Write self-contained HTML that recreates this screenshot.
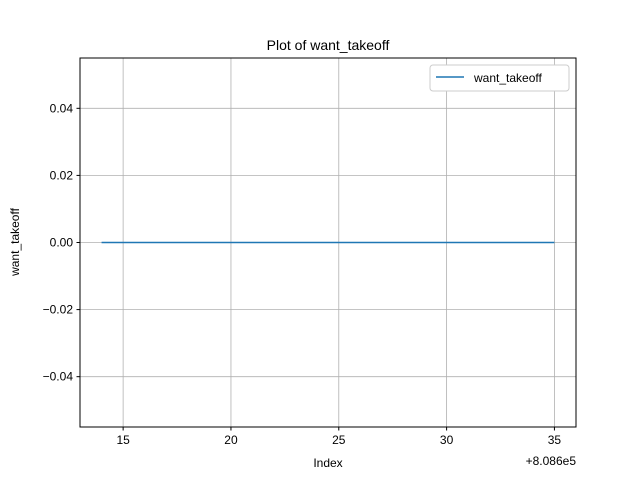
<!DOCTYPE html>
<html><head><meta charset="utf-8"><style>
body{margin:0;background:#fff;}
svg{display:block;font-family:"Liberation Sans","DejaVu Sans",sans-serif;}
</style></head><body>
<svg id="chart" width="640" height="480">
<rect width="640" height="480" fill="#fff"/>
<text x="328" y="50" text-anchor="middle" font-size="14">Plot of want_takeoff</text>
<g id="grid"></g>
<g id="ticks"></g>
<g id="series"></g>
<rect x="80" y="58" width="496" height="369" fill="none" stroke="#000" stroke-width="1"/>
<text x="328" y="467" text-anchor="middle" font-size="12">Index</text>
<text x="19" y="242" text-anchor="middle" font-size="12" transform="rotate(-90 19 242)">want_takeoff</text>
<text x="576" y="465" text-anchor="end" font-size="12">+8.086e5</text>
<g>
<rect x="430" y="65" width="139" height="26" rx="3" fill="#fff" stroke="#ccc"/>
<line x1="436" y1="77" x2="464" y2="77" stroke="#1f77b4" stroke-width="1.5"/>
<text x="474" y="82" font-size="12">want_takeoff</text>
</g>
</svg>
<script>
const xValues=[808614,808615,808616,808617,808618,808619,808620,808621,808622,808623,808624,808625,808626,808627,808628,808629,808630,808631,808632,808633,808634,808635];
const yValues=[0,0,0,0,0,0,0,0,0,0,0,0,0,0,0,0,0,0,0,0,0,0];
const xTicks=[15,20,25,30,35];
const yTicks=[-0.04,-0.02,0,0.02,0.04];
const yTickLabels=["\u22120.04","\u22120.02","0.00","0.02","0.04"];
const xOffset=808600;
const L=80,R=576,T=58,B=427;
const xMin=13,xMax=36,yMin=-0.055,yMax=0.055;
const sx=v=>L+(v-xMin)/(xMax-xMin)*(R-L);
const sy=v=>B-(v-yMin)/(yMax-yMin)*(B-T);
const NS="http://www.w3.org/2000/svg";
const grid=document.getElementById('grid'),ticks=document.getElementById('ticks'),series=document.getElementById('series');
function mk(tag,attrs,parent){const e=document.createElementNS(NS,tag);for(const k in attrs)e.setAttribute(k,attrs[k]);parent.appendChild(e);return e;}
xTicks.forEach(t=>{const x=sx(t);
 const g=mk('line',{x1:x,x2:x,y1:T,y2:B,stroke:'#b0b0b0','stroke-width':0.8},grid);
 
 
 const tk=mk('line',{x1:x,x2:x,y1:B,y2:B+3.5,stroke:'#000'},ticks);
 
 
 const tx=mk('text',{x:x,y:B+17,'text-anchor':'middle','font-size':12},ticks);
 tx.textContent=String(t);
 
 
});
yTicks.forEach((t,i)=>{const y=sy(t);
 const g=mk('line',{x1:L,x2:R,y1:y,y2:y,stroke:'#b0b0b0','stroke-width':0.8},grid);
 
 
 const tk=mk('line',{x1:L-3.5,x2:L,y1:y,y2:y,stroke:'#000'},ticks);
 
 
 const tx=mk('text',{x:L-7,y:y+4,'text-anchor':'end','font-size':12},ticks);
 tx.textContent=yTickLabels[i];
 
 
});
const pts=xValues.map((v,i)=>sx(v-xOffset)+','+sy(yValues[i])).join(' ');
const line=mk('polyline',{points:pts,fill:'none',stroke:'#1f77b4','stroke-width':1.5},series);


</script>
</body></html>
